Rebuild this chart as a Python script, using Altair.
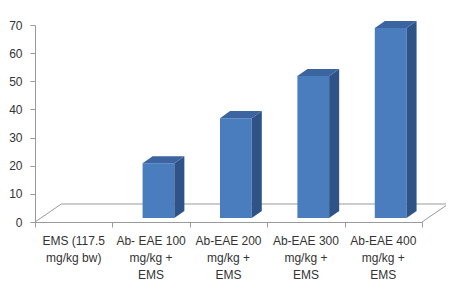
import altair as alt
import pandas as pd

categories = [
    "EMS (117.5\nmg/kg bw)",
    "Ab- EAE 100\nmg/kg +\nEMS",
    "Ab-EAE 200\nmg/kg +\nEMS",
    "Ab-EAE 300\nmg/kg +\nEMS",
    "Ab-EAE 400\nmg/kg +\nEMS",
]
values = [0, 19.5, 35.5, 50.5, 67.5]
y_ticks = [0, 10, 20, 30, 40, 50, 60, 70]

# 3D look constants (in data units)
BASE = 1.4       # bar front face sits a little behind the floor's front edge
X0, X1 = 0.39, 0.80
DDX, DDY = 0.13, 2.5   # depth of each bar
FDX, FDY = 0.34, 6.4   # depth of the floor

FRONT = "#4a7dbd"
SIDE = "#2e5386"
TOP = "#3b64a0"
GRAY = "#9a9a9a"

front_rows, side_rows, top_rows = [], [], []
for i, (c, v) in enumerate(zip(categories, values)):
    if v <= 0:
        continue
    x0, x1 = i + X0, i + X1
    b, t = BASE, BASE + v
    front_rows.append({"bar": i, "x": x0, "x2": x1, "y": b, "y2": t})
    side_rows += [
        {"bar": i, "x": x1, "y": b, "y2": t},
        {"bar": i, "x": x1 + DDX, "y": b + DDY, "y2": t + DDY},
    ]
    top_rows += [
        {"bar": i, "x": x0, "y": t, "y2": t},
        {"bar": i, "x": x0 + DDX, "y": t, "y2": t + DDY},
        {"bar": i, "x": x1, "y": t, "y2": t + DDY},
        {"bar": i, "x": x1 + DDX, "y": t + DDY, "y2": t + DDY},
    ]

n = len(categories)
floor = pd.DataFrame({
    "x": [0, FDX, n + FDX, n],
    "y": [0, FDY, FDY, 0],
    "o": [0, 1, 2, 3],
})
labels = pd.DataFrame({"x": [i + 0.5 for i in range(n)], "label": categories})

xs = alt.Scale(domain=[0, n], nice=False, zero=False)
ys = alt.Scale(domain=[0, 70], nice=False)

xaxis = alt.Axis(values=list(range(n + 1)), labels=False, title=None, grid=False,
                 tickSize=5, tickColor=GRAY, domainColor=GRAY)
yaxis = alt.Axis(values=y_ticks, title=None, grid=False, tickSize=5,
                 tickColor=GRAY, domainColor=GRAY, labelFont="Liberation Sans",
                 labelFontSize=12, labelColor="#333333", labelPadding=8,
                 labelOverlap=False, labelBound=False, labelFlush=False)

X = lambda f: alt.X(f, scale=xs, axis=xaxis)
Y = lambda f: alt.Y(f, scale=ys, axis=yaxis)

floor_l = alt.Chart(floor).mark_line(color=GRAY, strokeWidth=1).encode(
    x=X("x:Q"), y=Y("y:Q"), order="o:Q",
)
front_l = alt.Chart(pd.DataFrame(front_rows)).mark_rect(color=FRONT).encode(
    x=X("x:Q"), x2="x2:Q", y=Y("y:Q"), y2="y2:Q",
)
side_l = alt.Chart(pd.DataFrame(side_rows)).mark_area(color=SIDE).encode(
    x=X("x:Q"), y=Y("y:Q"), y2="y2:Q", detail="bar:N",
)
top_l = alt.Chart(pd.DataFrame(top_rows)).mark_area(color=TOP).encode(
    x=X("x:Q"), y=Y("y:Q"), y2="y2:Q", detail="bar:N",
)
text_l = alt.Chart(labels).mark_text(
    font="Liberation Sans", fontSize=12, color="#333333", lineBreak="\n",
    lineHeight=17, baseline="top", align="center",
).encode(
    x=X("x:Q"),
    y=alt.value(211),
    text="label:N",
)

chart = alt.layer(floor_l, front_l, side_l, top_l, text_l).properties(
    width=387, height=197,
    autosize=alt.AutoSizeParams(type="none"),
    padding={"left": 27, "top": 17, "right": 24, "bottom": 75},
).configure_view(stroke=None)

chart.save("out.html", embed_options={"renderer": "svg", "actions": False})
